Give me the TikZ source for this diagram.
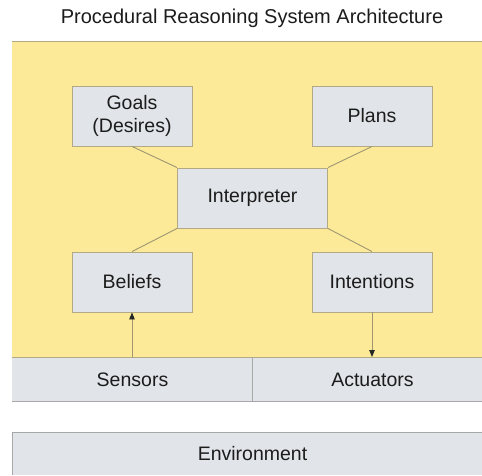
\documentclass[tikz,border=0pt]{standalone}
\usepackage{fontspec}
\setmainfont{Liberation Sans}
\usetikzlibrary{arrows.meta}
\definecolor{bgyellow}{HTML}{FCEA98}
\definecolor{boxfill}{HTML}{E1E4E8}
\definecolor{boxline}{HTML}{B3A985}
\definecolor{conn}{HTML}{9E9672}
\definecolor{bandline}{HTML}{A8A8A8}
\definecolor{txt}{HTML}{1C1C1C}
\tikzset{
  comp/.style={draw=boxline, fill=boxfill, line width=0.9pt, minimum width=120pt, minimum height=60pt,
    align=center, inner sep=0pt, text=txt, font=\fontsize{19.5}{23}\selectfont},
  link/.style={draw=conn, line width=0.9pt},
  flow/.style={draw=conn, line width=0.9pt, -{Triangle[length=7pt,width=5.5pt,fill=black!85,color=black!85]}},
  lbl/.style={text=txt, font=\fontsize{19.5}{23}\selectfont, inner sep=0pt}
}
\begin{document}
\begin{tikzpicture}[x=1pt,y=-1pt]
\useasboundingbox (0,0) rectangle (482,475);
\fill[white] (0,0) rectangle (482,475);
% title
\node[lbl, font=\fontsize{20}{24}\selectfont] (title) at (252,18) {Procedural Reasoning System Architecture};
% yellow area
\fill[bgyellow] (12,41) rectangle (482,357);
\draw[boxline, line width=1pt] (12,41) -- (482,41);
% sensors / actuators band
\fill[boxfill] (12,357) rectangle (482,401);
\draw[boxline, line width=1pt] (12,357) -- (482,357);
\draw[bandline, line width=1pt] (12,401) -- (482,401);
\draw[bandline, line width=0.8pt] (252,357) -- (252,401);
\node[lbl] (sensors) at (132.5,380) {Sensors};
\node[lbl] (actuators) at (372.5,380) {Actuators};
\coordinate (sensTop) at (132,357);
\coordinate (actTop) at (372,357);
% environment
\fill[boxfill] (12,432) rectangle (482,475);
\draw[bandline, line width=1pt] (12,475) -- (12,432) -- (482,432);
\node[lbl] (env) at (252.5,454) {Environment};
% components
\node[comp] (goals) at (132,116) {Goals\\(Desires)};
\node[comp] (plans) at (372,116) {Plans};
\node[comp, minimum width=150pt] (interp) at (252.5,198) {Interpreter};
\node[comp] (beliefs) at (132,282) {Beliefs};
\node[comp] (intent) at (372,282) {Intentions};
% connectors
\draw[link] (goals.south) -- (interp.north west);
\draw[link] (plans.south) -- (interp.north east);
\draw[link] (beliefs.north) -- (interp.south west);
\draw[link] (intent.north) -- (interp.south east);
\draw[flow] (sensTop) -- (beliefs.south);
\draw[flow] (intent.south) -- (actTop);
\end{tikzpicture}
\end{document}
